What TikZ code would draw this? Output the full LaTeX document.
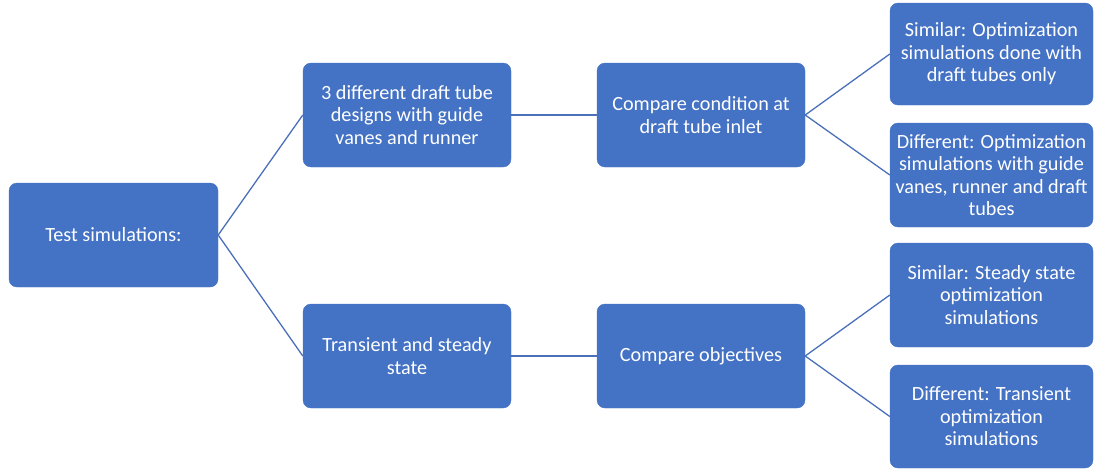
\documentclass[tikz,border=0pt]{standalone}
\usepackage{fontspec}
\setmainfont{Carlito}
\definecolor{boxblue}{HTML}{4472C4}
\definecolor{lineblue}{HTML}{4A70B8}
\begin{document}
\begin{tikzpicture}[x=1pt,y=-1pt,
  box/.style={fill=boxblue, draw=boxblue, rounded corners=8pt, inner sep=0pt,
    text=white, align=center, font=\fontsize{20.2}{22.5}\selectfont},
  link/.style={draw=lineblue, line width=1.3pt}]
  \useasboundingbox (0,0) rectangle (1094,471);
  % root
  \node[box, minimum width=209pt, minimum height=104pt] (test) at (113.5,235) {Test simulations:};
  % second level
  \node[box, minimum width=208pt, minimum height=104pt] (designs) at (407,115)
    {3 different draft tube\\designs with guide\\vanes and runner};
  \node[box, minimum width=208pt, minimum height=104pt] (transient) at (407,356)
    {Transient and steady\\state};
  % comparison step
  \node[box, minimum width=208pt, minimum height=104pt] (inlet) at (701,115)
    {Compare condition at\\draft tube inlet};
  \node[box, minimum width=208pt, minimum height=104pt] (objectives) at (701,356)
    {Compare objectives};
  % outcomes
  \node[box, minimum width=203pt, minimum height=102pt] (simA) at (991.5,54)
    {Similar: Optimization\\simulations done with\\draft tubes only};
  \node[box, minimum width=203pt, minimum height=104pt] (difA) at (991.5,175)
    {Different: Optimization\\simulations with guide\\vanes, runner and draft\\tubes};
  \node[box, minimum width=203pt, minimum height=104pt] (simB) at (991.5,295)
    {Similar: Steady state\\optimization\\simulations};
  \node[box, minimum width=203pt, minimum height=103pt] (difB) at (991.5,416.5)
    {Different: Transient\\optimization\\simulations};
  % connectors
  \draw[link] (test.east) -- (designs.west);
  \draw[link] (test.east) -- (transient.west);
  \draw[link] (designs.east) -- (inlet.west);
  \draw[link] (transient.east) -- (objectives.west);
  \draw[link] (inlet.east) -- (simA.west);
  \draw[link] (inlet.east) -- (difA.west);
  \draw[link] (objectives.east) -- (simB.west);
  \draw[link] (objectives.east) -- (difB.west);
\end{tikzpicture}
\end{document}
